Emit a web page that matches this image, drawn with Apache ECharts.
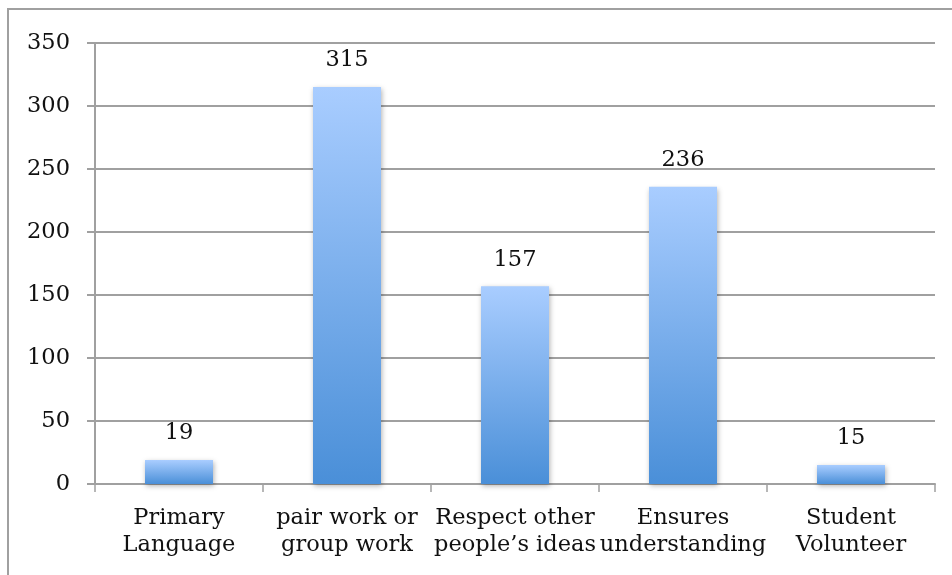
<!DOCTYPE html>
<html><head><meta charset="utf-8">
<script src="https://cdn.jsdelivr.net/npm/echarts@6/dist/echarts.min.js"></script>
<style>html,body{margin:0;padding:0;background:#fff}#c{width:952px;height:575px}</style>
</head><body><div id="c"></div>
<script>
const categories = ["Primary\nLanguage", "pair work or\ngroup work", "Respect other\npeople\u2019s ideas", "Ensures\nunderstanding", "Student\nVolunteer"];
const values = [19, 315, 157, 236, 15];
const yTicks = [0, 50, 100, 150, 200, 250, 300, 350];

const FONT = "DejaVu Serif";
const FS = 22.5;
const chart = echarts.init(document.getElementById('c'), null, {renderer: 'canvas'});
chart.setOption({
  animation: false,
  backgroundColor: '#fff',
  graphic: [{
    type: 'polyline', silent: true,
    shape: {points: [[8, 600], [8, 9], [960, 9]]},
    style: {stroke: '#a0a0a0', lineWidth: 2, fill: null}
  }],
  grid: {left: 95, right: 17, top: 43, bottom: 91, containLabel: false},
  xAxis: {
    type: 'category',
    data: categories,
    axisLine: {lineStyle: {color: '#a0a0a0', width: 2}},
    axisTick: {show: true, length: 8, lineStyle: {color: '#a0a0a0', width: 1.5}},
    axisLabel: {fontFamily: FONT, fontSize: FS, color: '#111', margin: 21, lineHeight: 27, interval: 0}
  },
  yAxis: {
    type: 'value', min: yTicks[0], max: yTicks[yTicks.length - 1], interval: 50,
    axisLine: {show: true, lineStyle: {color: '#a0a0a0', width: 2}},
    axisTick: {show: true, length: 8, lineStyle: {color: '#a0a0a0', width: 2}},
    splitLine: {show: true, lineStyle: {color: '#a0a0a0', width: 2}},
    axisLabel: {fontFamily: FONT, fontSize: FS, color: '#111', margin: 25}
  },
  series: [{
    type: 'bar',
    data: values,
    barWidth: 68,
    itemStyle: {
      color: new echarts.graphic.LinearGradient(0, 0, 0, 1, [
        {offset: 0, color: '#a9cdff'},
        {offset: 1, color: '#4a8fd8'}
      ]),
      shadowColor: 'rgba(0,0,0,0.3)', shadowBlur: 5, shadowOffsetX: 1, shadowOffsetY: 2
    },
    label: {show: true, position: 'top', distance: 15, fontFamily: FONT, fontSize: FS, color: '#111'}
  }]
});
</script></body></html>
